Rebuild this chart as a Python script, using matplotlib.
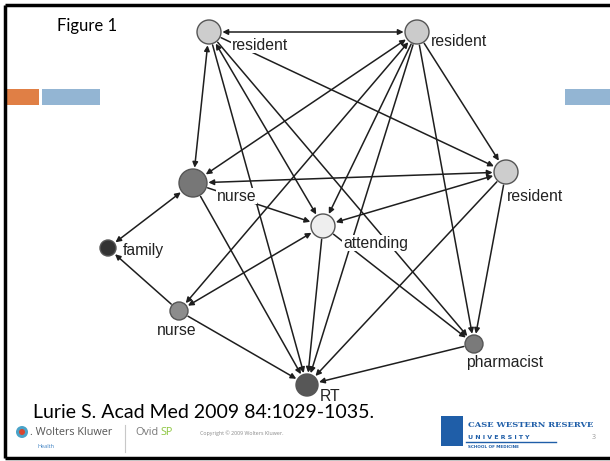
import matplotlib
matplotlib.use('Agg')
import matplotlib.pyplot as plt
from matplotlib.patches import Circle, Rectangle

# network data
node_ids = ['R1', 'R2', 'R3', 'N1', 'A', 'F', 'N2', 'P', 'RT']
node_labels = ['resident', 'resident', 'resident', 'nurse', 'attending',
               'family', 'nurse', 'pharmacist', 'RT']
# directed ties (source, target); pairs listed both ways are reciprocal
edges = [
    ('R1', 'R2'), ('R2', 'R1'),
    ('R1', 'N1'), ('N1', 'R1'),
    ('R1', 'A'), ('A', 'R1'),
    ('R1', 'R3'), ('R1', 'RT'), ('R1', 'P'),
    ('R2', 'N1'), ('N1', 'R2'),
    ('R2', 'N2'), ('N2', 'R2'),
    ('R2', 'A'), ('R2', 'R3'), ('R2', 'RT'), ('R2', 'P'),
    ('N1', 'R3'), ('R3', 'N1'),
    ('A', 'R3'), ('R3', 'A'),
    ('R3', 'RT'), ('R3', 'P'),
    ('N1', 'A'), ('N1', 'RT'),
    ('N1', 'F'), ('F', 'N1'),
    ('A', 'N2'), ('N2', 'A'),
    ('A', 'RT'), ('A', 'P'),
    ('N2', 'F'), ('N2', 'RT'),
    ('P', 'RT'),
]
citation = 'Lurie S. Acad Med 2009 84:1029-1035.'

# layout of the drawing (pixel coordinates of the slide)
pos = {'R1': (209, 32), 'R2': (417, 32), 'R3': (506, 172), 'N1': (193, 183),
       'A': (323, 226), 'F': (108, 248), 'N2': (179, 311), 'P': (474, 344),
       'RT': (307, 385)}
radius = {'R1': 12, 'R2': 12, 'R3': 12, 'N1': 14, 'A': 12, 'F': 8,
          'N2': 9, 'P': 9, 'RT': 11}
fill = {'R1': '#cdcdcd', 'R2': '#cbcbcb', 'R3': '#cdcdcd', 'N1': '#777777',
        'A': '#eeeeee', 'F': '#333333', 'N2': '#8c8c8c', 'P': '#7a7a7a',
        'RT': '#575757'}
label_at = {'R1': (232, 45, 'left'), 'R2': (431, 41, 'left'),
            'R3': (507, 196, 'left'), 'N1': (217, 196, 'left'),
            'A': (343, 243, 'left'), 'F': (123, 250, 'left'),
            'N2': (177, 330, 'center'), 'P': (505, 362, 'center'),
            'RT': (320, 396, 'left')}

fig = plt.figure(figsize=(6.10, 4.61), dpi=100)
ax = fig.add_axes([0, 0, 1, 1])
ax.set_xlim(0, 610)
ax.set_ylim(461, 0)
ax.axis('off')

# slide frame and decoration
ax.plot([4.5, 610], [5.5, 5.5], color='black', lw=2.5, solid_capstyle='butt')
ax.plot([4.5, 4.5], [5.5, 458], color='black', lw=2.5, solid_capstyle='butt')
ax.plot([4.5, 610], [458, 458], color='black', lw=2.5, solid_capstyle='butt')
ax.add_patch(Rectangle((5, 89), 34, 16, color='#e07f45', lw=0))
ax.add_patch(Rectangle((42, 89), 58, 16, color='#93b5d3', lw=0))
ax.add_patch(Rectangle((565, 89), 45, 16, color='#93b5d3', lw=0))
ax.text(57, 26, 'Figure 1', fontsize=12, family='Lato', va='center')

# edges
done = set()
for s, t in edges:
    if (s, t) in done:
        continue
    both = (t, s) in edges
    done.add((s, t))
    done.add((t, s))
    (x1, y1), (x2, y2) = pos[s], pos[t]
    style = '<|-|>' if both else '-|>'
    ax.annotate('', xy=(x2, y2), xytext=(x1, y1),
                arrowprops=dict(arrowstyle=style, color='#1e1e1e', lw=1.1,
                                mutation_scale=8,
                                shrinkA=radius[s] * 0.72 + 1,
                                shrinkB=radius[t] * 0.72 + 1),
                zorder=2)

# nodes and labels
for n, lab in zip(node_ids, node_labels):
    ax.add_patch(Circle(pos[n], radius[n], facecolor=fill[n],
                        edgecolor='#555555', lw=1.0, zorder=3))
    lx, ly, ha = label_at[n]
    ax.text(lx, ly, lab, fontsize=11.3, family='Liberation Sans', ha=ha,
            va='center', color='#222222', zorder=4,
            bbox=dict(facecolor='white', edgecolor='none', pad=0.5))

# footer
ax.text(33, 412, citation, fontsize=14, family='Lato', va='center')
ax.add_patch(Circle((22, 432), 6, facecolor='#4aa3c8', edgecolor='none'))
ax.add_patch(Circle((22, 432), 3, facecolor='#d9452e', edgecolor='none'))
ax.text(30, 432, '. Wolters Kluwer', fontsize=7.8, family='Open Sans',
        va='center', color='#555555')
ax.text(38, 446, 'Health', fontsize=4, family='Open Sans', va='center',
        color='#3a7fc1')
ax.plot([125, 125], [425, 452], color='#c8c8c8', lw=0.8)
ax.text(135, 432, 'Ovid', fontsize=7.8, family='Open Sans', va='center',
        color='#777777')
ax.text(160.5, 432, 'SP', fontsize=7.8, family='Open Sans', va='center',
        color='#8cc63f')
ax.text(200, 433, 'Copyright \u00a9 2009 Wolters Kluwer.', fontsize=3.8,
        family='Open Sans', va='center', color='#888888')
ax.add_patch(Rectangle((441, 416), 22, 30, color='#1f5ea8', lw=0))
ax.text(468, 425, 'CASE WESTERN RESERVE', fontsize=6.0, family='DejaVu Serif',
        weight='bold', va='center', color='#1f5ea8')
ax.text(468, 437, 'U N I V E R S I T Y', fontsize=4.5, family='DejaVu Sans',
        weight='bold', va='center', color='#1f5ea8')
ax.plot([466, 556], [442, 442], color='#1f5ea8', lw=1)
ax.text(468, 447, 'SCHOOL OF MEDICINE', fontsize=3, family='DejaVu Sans',
        weight='bold', va='center', color='#1f5ea8')
ax.text(592, 437, '3', fontsize=5, family='Open Sans', va='center',
        color='#999999')

fig.savefig('out.png', dpi=100)
